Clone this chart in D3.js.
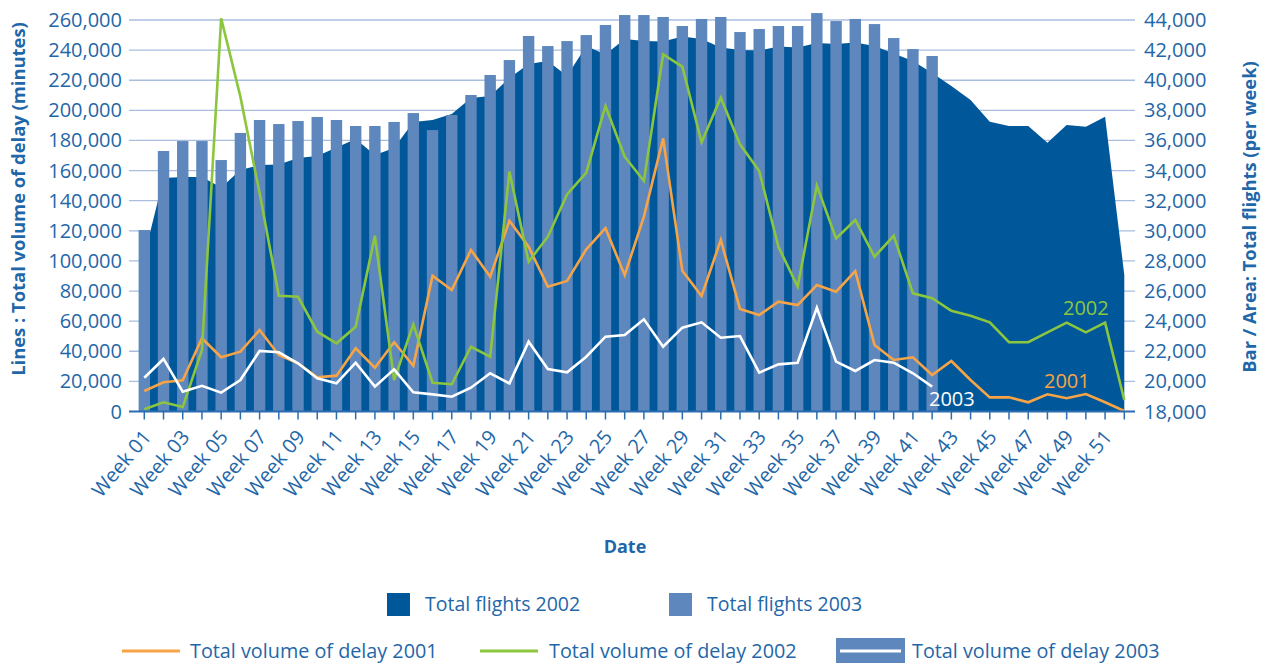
<!DOCTYPE html>
<html>
<head>
<meta charset="utf-8">
<script src="https://cdn.jsdelivr.net/npm/d3@7"></script>
<style>
  body { margin: 0; background: #fff; }
  text { font-family: "Open Sans", sans-serif; fill: #1f67a8; }
</style>
</head>
<body>
<script>
// weeks 1..52
const weeks = d3.range(1, 53);
const weekLabels = weeks.map(w => "Week " + String(w).padStart(2, "0"));

// total flights per week (right axis)
const flights2002 = [28330, 33510, 33580, 33580, 32880, 34040, 34370, 34400, 34840, 34970,
  35530, 36100, 35030, 35500, 37230, 37360, 37760, 38820, 38950, 40150,
  41080, 41280, 40280, 42270, 41710, 42740, 42600, 42570, 42900, 42740,
  42170, 42010, 41970, 42240, 42170, 42470, 42410, 42510, 42270, 41780,
  41280, 40480, 39620, 38690, 37250, 36960, 36960, 35850, 37030, 36910,
  37580, 27070];
const flights2003 = [30050, 35300, 35960, 35960, 34700, 36500, 37360, 37090, 37290, 37560,
  37360, 36960, 36960, 37230, 37820, 36690, 37690, 39020, 40350, 41340,
  42940, 42270, 42600, 43000, 43670, 44330, 44330, 44200, 43600, 44070,
  44200, 43200, 43400, 43600, 43600, 44460, 43930, 44070, 43730, 42800,
  42070, 41610];

// total volume of delay, minutes (left axis)
const delay2001 = [13600, 19400, 20700, 48600, 36000, 39700, 54100, 37500, 32000, 22700,
  23800, 42000, 29100, 46000, 30400, 90200, 80700, 107300, 89500, 126700,
  109400, 82900, 86700, 107700, 121700, 90600, 129400, 181400, 93500, 76700,
  113900, 68100, 64100, 72900, 70700, 84000, 79600, 93300, 44200, 34200,
  36000, 24200, 33500, 20900, 9400, 9400, 6100, 11400, 8800, 11600,
  6100, 300];
const delay2002 = [1500, 6100, 3000, 40800, 261100, 209100, 145100, 76900, 76200, 53000,
  45300, 56300, 116700, 20900, 57900, 19100, 18100, 43000, 36400, 159300,
  99500, 116100, 144200, 158600, 202900, 169200, 153100, 237200, 229000, 178800,
  208400, 177400, 159700, 109400, 82900, 150000, 115000, 127200, 102800, 116700,
  78500, 75200, 66900, 63600, 59200, 46000, 46000, 52600, 59000, 52600,
  59000, 7600];
const delay2003 = [22400, 34900, 13100, 17100, 12500, 20900, 40200, 39300, 32000, 22000,
  18700, 32400, 16500, 28000, 12800, 11400, 9800, 15800, 25400, 18700,
  46400, 28200, 26000, 36400, 49700, 50800, 61200, 43000, 55700, 59200,
  49000, 50100, 25800, 31300, 32400, 68900, 33100, 26900, 34200, 32400,
  25400, 16500];

const leftTicks = d3.range(0, 260001, 20000);
const rightTicks = d3.range(18000, 44001, 2000);

const W = 1275, H = 664;
const DARK = "#00589a", LIGHT = "#5d87bd", GRID = "#a8bde0", AXIS = "#2a6db0";
const ORANGE = "#f7a446", GREEN = "#8cc63f";

const svg = d3.select("body").append("svg")
  .attr("width", W)
  .attr("height", H);

const x = d3.scalePoint().domain(weeks).range([144.3, 1124.3]);
const yL = d3.scaleLinear().domain([0, 260000]).range([411.5, 20]);
const yR = d3.scaleLinear().domain([18000, 44000]).range([411.5, 20]);
const barW = 11.4;

// grid lines
svg.append("g")
  .selectAll("line")
  .data(leftTicks.slice(1))
  .join("line")
  .attr("x1", 129).attr("x2", 1135)
  .attr("y1", d => yL(d)).attr("y2", d => yL(d))
  .attr("stroke", GRID)
  .attr("stroke-width", 1.3);

// area 2002
const area = d3.area()
  .x((d, i) => x(weeks[i]))
  .y0(yR(18000))
  .y1(d => yR(d));
svg.append("path")
  .datum(flights2002)
  .attr("d", area)
  .attr("fill", DARK);

// bars 2003
svg.append("g")
  .selectAll("rect")
  .data(flights2003)
  .join("rect")
  .attr("x", (d, i) => x(weeks[i]) - barW / 2)
  .attr("y", d => yR(d))
  .attr("width", barW)
  .attr("height", d => yR(18000) - yR(d))
  .attr("fill", LIGHT);

// delay lines
const line = d3.line()
  .x((d, i) => x(weeks[i]))
  .y(d => yL(d));
[[delay2001, ORANGE], [delay2002, GREEN], [delay2003, "#ffffff"]].forEach(([s, c]) => {
  svg.append("path")
    .datum(s)
    .attr("d", line)
    .attr("fill", "none")
    .attr("stroke", c)
    .attr("stroke-width", 2.6)
    .attr("stroke-linejoin", "miter");
});

// x axis
svg.append("line")
  .attr("x1", 129).attr("x2", 1135)
  .attr("y1", yL(0)).attr("y2", yL(0))
  .attr("stroke", AXIS)
  .attr("stroke-width", 2);
svg.append("g")
  .selectAll("line")
  .data(weeks)
  .join("line")
  .attr("x1", d => x(d)).attr("x2", d => x(d))
  .attr("y1", yL(0)).attr("y2", yL(0) + 8)
  .attr("stroke", AXIS)
  .attr("stroke-width", 1.5);

svg.append("g")
  .selectAll("text")
  .data(weeks.filter(w => w % 2 === 1))
  .join("text")
  .attr("transform", d => `translate(${x(d) + 8},${yL(0) + 26}) rotate(-50)`)
  .attr("text-anchor", "end")
  .attr("font-size", 20)
  .text(d => weekLabels[d - 1]);

// left axis labels
svg.append("g")
  .selectAll("text")
  .data(leftTicks)
  .join("text")
  .attr("x", 122)
  .attr("y", d => yL(d) + 7)
  .attr("text-anchor", "end")
  .attr("font-size", 20)
  .text(d => d3.format(",")(d));

// right axis labels
svg.append("g")
  .selectAll("text")
  .data(rightTicks)
  .join("text")
  .attr("x", 1144)
  .attr("y", d => yR(d) + 7)
  .attr("font-size", 20)
  .text(d => d3.format(",")(d));

// axis titles
svg.append("text")
  .attr("transform", "translate(25,199) rotate(-90)")
  .attr("text-anchor", "middle")
  .attr("font-size", 18.4)
  .attr("font-weight", "bold")
  .text("Lines : Total volume of delay (minutes)");
svg.append("text")
  .attr("transform", "translate(1256,217) rotate(-90)")
  .attr("text-anchor", "middle")
  .attr("font-size", 18.3)
  .attr("font-weight", "bold")
  .text("Bar / Area: Total flights (per week)");
svg.append("text")
  .attr("x", 625).attr("y", 553)
  .attr("text-anchor", "middle")
  .attr("font-size", 18)
  .attr("font-weight", "bold")
  .text("Date");

// series labels
svg.append("text").attr("x", 1063).attr("y", 315).attr("font-size", 20)
  .style("fill", GREEN).text("2002");
svg.append("text").attr("x", 1044).attr("y", 388).attr("font-size", 20)
  .style("fill", ORANGE).text("2001");
svg.append("text").attr("x", 929).attr("y", 406).attr("font-size", 20)
  .style("fill", "#ffffff").text("2003");

// legend
const leg = svg.append("g");
leg.append("rect").attr("x", 387).attr("y", 593).attr("width", 23).attr("height", 23).attr("fill", DARK);
leg.append("text").attr("x", 425).attr("y", 611).attr("font-size", 19.5).text("Total flights 2002");
leg.append("rect").attr("x", 669).attr("y", 593).attr("width", 23).attr("height", 23).attr("fill", LIGHT);
leg.append("text").attr("x", 707).attr("y", 611).attr("font-size", 19.5).text("Total flights 2003");

leg.append("line").attr("x1", 122).attr("x2", 180).attr("y1", 651).attr("y2", 651)
  .attr("stroke", ORANGE).attr("stroke-width", 3);
leg.append("text").attr("x", 190).attr("y", 658).attr("font-size", 19.8).text("Total volume of delay 2001");
leg.append("line").attr("x1", 480).attr("x2", 538).attr("y1", 651).attr("y2", 651)
  .attr("stroke", GREEN).attr("stroke-width", 3);
leg.append("text").attr("x", 549).attr("y", 658).attr("font-size", 19.8).text("Total volume of delay 2002");
leg.append("rect").attr("x", 836).attr("y", 638).attr("width", 69).attr("height", 25).attr("fill", LIGHT);
leg.append("line").attr("x1", 840).attr("x2", 901).attr("y1", 651).attr("y2", 651)
  .attr("stroke", "#ffffff").attr("stroke-width", 3);
leg.append("text").attr("x", 912).attr("y", 658).attr("font-size", 19.8).text("Total volume of delay 2003");
</script>
</body>
</html>
